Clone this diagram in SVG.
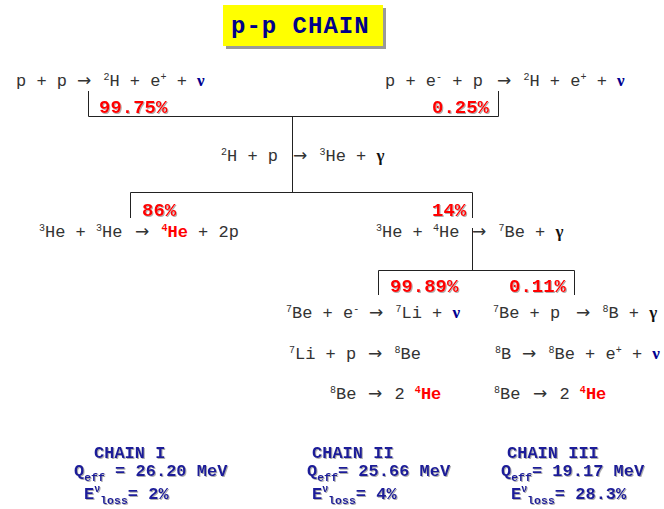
<svg xmlns="http://www.w3.org/2000/svg" width="664" height="509" viewBox="0 0 664 509">
<defs>
<filter id="sh" x="-10%" y="-10%" width="130%" height="140%">
<feDropShadow dx="1" dy="1" stdDeviation="0.4" flood-color="#777" flood-opacity="0.6"/>
</filter>
</defs>
<style>
text{white-space:pre}
.eq{font-family:"Liberation Mono",monospace;font-size:17px;fill:#333}
.sup{font-size:10px}
.ar{font-family:"DejaVu Sans",sans-serif;font-size:17px}
.nu{font-family:"Liberation Serif",serif;font-weight:bold;fill:#000090}
.ga{font-family:"Liberation Serif",serif;font-weight:bold;fill:#111}
.he{font-weight:bold;fill:#ff0000}
.pct{font-family:"Liberation Mono",monospace;font-weight:bold;font-size:19px;fill:#ff0000;filter:url(#sh)}
.ch{font-family:"Liberation Mono",monospace;font-weight:bold;font-size:17px;fill:#1a1a99;filter:url(#sh)}
.sub{font-size:11.5px}
.sv{font-size:10px}
.ln{stroke:#222;stroke-width:1;fill:none}
</style>
<rect width="664" height="509" fill="#fff"/>

<g id="title">
<rect x="226" y="8" width="160" height="41" fill="#999"/>
<rect x="223" y="5" width="160" height="41" fill="#ffff00"/>
<text x="231" y="33" style="font-family:'Liberation Mono',monospace;font-weight:bold;font-size:24px;letter-spacing:1px;fill:#00008b">p-p CHAIN</text>
</g>

<g id="connectors">
<path class="ln" d="M88.5,91 V116.5 H498.5 V91"/>
<path class="ln" d="M292.5,116.5 V192.5"/>
<path class="ln" d="M130.5,218 V192.5 H472.5 V218"/>
<path class="ln" d="M472.5,228 V270.5"/>
<path class="ln" d="M378.5,295 V270.5 H574.5 V295"/>
</g>

<g id="r1">
<text class="eq" xml:space="preserve" x="16" y="86">p + p <tspan class="ar" x="77">→</tspan><tspan dx="2"> </tspan><tspan class="sup" dy="-6">2</tspan><tspan dy="6">H + e</tspan><tspan class="sup" dy="-6">+</tspan><tspan dy="6"> + </tspan><tspan class="nu">ν</tspan></text>
<text class="pct" x="99" y="113">99.75%</text>
</g>

<g id="r2">
<text class="eq" xml:space="preserve" x="385" y="86">p + e<tspan class="sup" dy="-6">-</tspan><tspan dy="6"> + p </tspan><tspan class="ar" x="497">→</tspan><tspan dx="2"> </tspan><tspan class="sup" dy="-6">2</tspan><tspan dy="6">H + e</tspan><tspan class="sup" dy="-6">+</tspan><tspan dy="6"> + </tspan><tspan class="nu">ν</tspan></text>
<text class="pct" x="432" y="113">0.25%</text>
</g>

<g id="r3">
<text class="eq" xml:space="preserve" x="221" y="155"><tspan class="sup">2</tspan><tspan dy="6">H + p </tspan><tspan class="ar" x="293">→</tspan><tspan dx="2"> </tspan><tspan class="sup" dy="-6">3</tspan><tspan dy="6">He + </tspan><tspan class="ga">γ</tspan></text>
</g>

<g id="r4">
<text class="pct" x="142" y="216">86%</text>
<text class="eq" xml:space="preserve" x="39" y="231"><tspan class="sup">3</tspan><tspan dy="6">He + </tspan><tspan class="sup" dy="-6">3</tspan><tspan dy="6">He </tspan><tspan class="ar" x="135">→</tspan><tspan dx="2"> </tspan><tspan class="sup he" dy="-6">4</tspan><tspan class="he" dy="6">He</tspan> + 2p</text>
</g>

<g id="r5">
<text class="pct" x="432" y="216">14%</text>
<text class="eq" xml:space="preserve" x="376" y="231"><tspan class="sup">3</tspan><tspan dy="6">He + </tspan><tspan class="sup" dy="-6">4</tspan><tspan dy="6">He </tspan><tspan class="ar" x="472">→</tspan><tspan dx="2"> </tspan><tspan class="sup" dy="-6">7</tspan><tspan dy="6">Be + </tspan><tspan class="ga">γ</tspan></text>
</g>

<g id="r6">
<text class="pct" x="390" y="292">99.89%</text>
<text class="eq" xml:space="preserve" x="286" y="312"><tspan class="sup">7</tspan><tspan dy="6">Be + e</tspan><tspan class="sup" dy="-6">-</tspan><tspan dy="6"> </tspan><tspan class="ar" x="369">→</tspan><tspan dx="2"> </tspan><tspan class="sup" dy="-6">7</tspan><tspan dy="6">Li + </tspan><tspan class="nu">ν</tspan></text>
<text class="eq" xml:space="preserve" x="289" y="353"><tspan class="sup">7</tspan><tspan dy="6">Li + p </tspan><tspan class="ar" x="368">→</tspan><tspan dx="2"> </tspan><tspan class="sup" dy="-6">8</tspan><tspan dy="6">Be</tspan></text>
<text class="eq" xml:space="preserve" x="330" y="393"><tspan class="sup">8</tspan><tspan dy="6">Be </tspan><tspan class="ar" x="368">→</tspan><tspan dx="2"> 2 </tspan><tspan class="sup he" dy="-6">4</tspan><tspan class="he" dy="6">He</tspan></text>
</g>

<g id="r7">
<text class="pct" x="509" y="292">0.11%</text>
<text class="eq" xml:space="preserve" x="493" y="312"><tspan class="sup">7</tspan><tspan dy="6">Be + p </tspan><tspan class="ar" x="576">→</tspan><tspan dx="2"> </tspan><tspan class="sup" dy="-6">8</tspan><tspan dy="6">B + </tspan><tspan class="ga">γ</tspan></text>
<text class="eq" xml:space="preserve" x="495" y="353"><tspan class="sup">8</tspan><tspan dy="6">B </tspan><tspan class="ar" x="522">→</tspan><tspan dx="2"> </tspan><tspan class="sup" dy="-6">8</tspan><tspan dy="6">Be + e</tspan><tspan class="sup" dy="-6">+</tspan><tspan dy="6"> + </tspan><tspan class="nu">ν</tspan></text>
<text class="eq" xml:space="preserve" x="494" y="393"><tspan class="sup">8</tspan><tspan dy="6">Be </tspan><tspan class="ar" x="533">→</tspan><tspan dx="2"> 2 </tspan><tspan class="sup he" dy="-6">4</tspan><tspan class="he" dy="6">He</tspan></text>
</g>

<g id="chain1">
<text class="ch" x="94" y="458">CHAIN I</text>
<text class="ch" xml:space="preserve" x="74" y="476">Q<tspan class="sub" dy="5">eff</tspan><tspan dy="-5"> = 26.20 MeV</tspan></text>
<text class="ch" xml:space="preserve" x="84" y="499">E<tspan class="sv" dy="-7">ν</tspan><tspan class="sub" dy="12">loss</tspan><tspan dy="-5">= 2%</tspan></text>
</g>

<g id="chain2">
<text class="ch" x="312" y="458">CHAIN II</text>
<text class="ch" xml:space="preserve" x="307" y="476">Q<tspan class="sub" dy="5">eff</tspan><tspan dy="-5">= 25.66 MeV</tspan></text>
<text class="ch" xml:space="preserve" x="312" y="499">E<tspan class="sv" dy="-7">ν</tspan><tspan class="sub" dy="12">loss</tspan><tspan dy="-5">= 4%</tspan></text>
</g>

<g id="chain3">
<text class="ch" x="507" y="458">CHAIN III</text>
<text class="ch" xml:space="preserve" x="501" y="476">Q<tspan class="sub" dy="5">eff</tspan><tspan dy="-5">= 19.17 MeV</tspan></text>
<text class="ch" xml:space="preserve" x="511" y="499">E<tspan class="sv" dy="-7">ν</tspan><tspan class="sub" dy="12">loss</tspan><tspan dy="-5">= 28.3%</tspan></text>
</g>
</svg>
